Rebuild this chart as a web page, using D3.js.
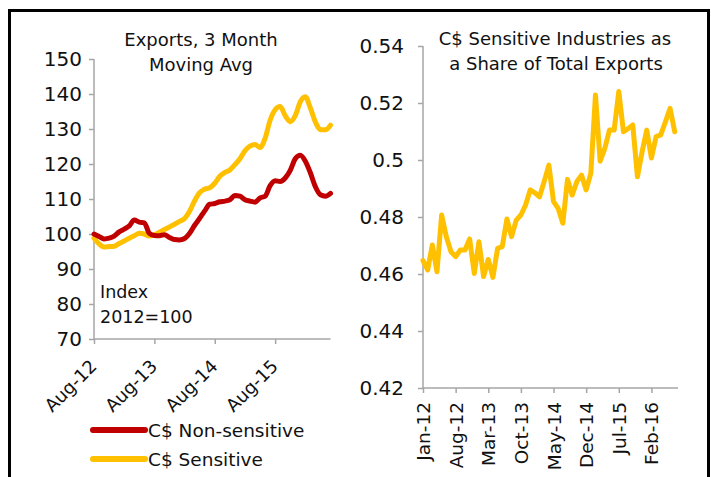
<!DOCTYPE html>
<html>
<head>
<meta charset="utf-8">
<script src="https://cdn.jsdelivr.net/npm/d3@7"></script>
<style>
  body { margin: 0; background: #fff; }
  text { font-family: "DejaVu Sans", sans-serif; fill: #111; }
</style>
</head>
<body>
<script>
// Left panel: exports, 3 month moving average, index 2012=100 (monthly, Aug-12 .. Jul-16)
const leftTicks = ["Aug-12", "Aug-13", "Aug-14", "Aug-15"];
const nonSensitive = [
  100, 99.3, 98.6, 98.8, 99.4, 100.6, 101.4, 102.3, 104, 103.4, 103.2, 100.2,
  99.6, 99.5, 99.8, 99.0, 98.4, 98.3, 98.7, 100.2, 102.5, 104.5, 106.6, 108.5,
  108.7, 109.2, 109.4, 109.8, 111, 110.8, 109.8, 109.4, 109.1, 110.3, 110.8, 113.8,
  115.2, 115, 116, 118.2, 121.5, 122.5, 120.8, 117.5, 113.5, 111.2, 110.8, 111.6
];
const sensitive = [
  98.8, 97.2, 96.3, 96.4, 96.5, 97.3, 98.0, 98.8, 99.5, 100.2, 100.0, 99.4,
  99.8, 100.5, 101.3, 102.0, 102.8, 103.6, 104.4, 106.5, 109.5, 111.8, 112.8, 113.2,
  114.5, 116.5, 117.6, 118.3, 119.8, 121.5, 123.8, 125.1, 125.6, 124.7, 127.3, 132.5,
  135.5, 136.4, 133.8, 132.1, 133.8, 137.8, 139.2, 136, 132, 129.8, 129.8, 131.1
];
const leftYTicks = [70, 80, 90, 100, 110, 120, 130, 140, 150];

// Right panel: C$ sensitive share of total exports (monthly, Jan-12 .. Jul-16)
const rightTicks = ["Jan-12", "Aug-12", "Mar-13", "Oct-13", "May-14", "Dec-14", "Jul-15", "Feb-16"];
const share = [
  0.4647, 0.4614, 0.4702, 0.4608, 0.4807, 0.4731, 0.4678, 0.4661, 0.4684, 0.4684,
  0.4723, 0.4602, 0.4713, 0.4591, 0.4651, 0.4588, 0.4690, 0.4696, 0.4793, 0.4731,
  0.4789, 0.4807, 0.4842, 0.4895, 0.4885, 0.4871, 0.4925, 0.4982, 0.4854, 0.4830,
  0.4778, 0.4932, 0.4877, 0.4924, 0.4947, 0.4895, 0.4953, 0.5228, 0.4996, 0.5041,
  0.5105, 0.5105, 0.5240, 0.5099, 0.5110, 0.5123, 0.4941, 0.5029, 0.5105, 0.5007,
  0.5082, 0.5088, 0.5134, 0.5181, 0.5099
];
const rightYTicks = [0.42, 0.44, 0.46, 0.48, 0.5, 0.52, 0.54];

const red = "#C00000", yellow = "#FFC000", axisColor = "#a6a6a6";

const svg = d3.select("body").append("svg")
  .attr("width", 711)
  .attr("height", 477);

// outer frame
svg.append("rect")
  .attr("x", 9.5).attr("y", 10.5)
  .attr("width", 699).attr("height", 520)
  .attr("fill", "none")
  .attr("stroke", "#000")
  .attr("stroke-width", 3);

// ---------- left chart ----------
const x1 = d3.scaleLinear().domain([0, 47]).range([94, 330.5]);
const y1 = d3.scaleLinear().domain([70, 150]).range([339, 59]);

const gl = svg.append("g");

const yAxisL = gl.append("g")
  .attr("transform", "translate(94,0)")
  .call(d3.axisLeft(y1).tickValues(leftYTicks).tickSize(5).tickPadding(7).tickFormat(d3.format("d")));
const xAxisL = gl.append("g")
  .attr("transform", "translate(0,339)")
  .call(d3.axisBottom(x1).tickValues([0, 12, 24, 36]).tickSize(5).tickFormat((d, i) => leftTicks[i]));

[yAxisL, xAxisL].forEach(a => {
  a.select(".domain").attr("stroke", axisColor).attr("stroke-width", 1.5);
  a.selectAll(".tick line").attr("stroke", axisColor).attr("stroke-width", 1.5);
});
xAxisL.select(".domain").attr("d", "M94,0H330.5");
yAxisL.select(".domain").attr("d", "M0,59V339");
yAxisL.selectAll("text").attr("font-size", 20).attr("fill", "#111");
xAxisL.selectAll("text")
  .attr("font-size", 18)
  .attr("fill", "#111")
  .attr("text-anchor", "end")
  .attr("transform", "translate(-1,24) rotate(-45)")
  .attr("dy", "0.35em")
  .attr("y", 0);

const lineL = s => d3.line().x((d, i) => x1(i)).y(d => y1(d)).curve(d3.curveMonotoneX)(s);

gl.append("path").attr("d", lineL(sensitive))
  .attr("fill", "none").attr("stroke", yellow).attr("stroke-width", 5)
  .attr("stroke-linejoin", "round").attr("stroke-linecap", "round");
gl.append("path").attr("d", lineL(nonSensitive))
  .attr("fill", "none").attr("stroke", red).attr("stroke-width", 5)
  .attr("stroke-linejoin", "round").attr("stroke-linecap", "round");

gl.append("text").attr("x", 201).attr("y", 46).attr("text-anchor", "middle")
  .attr("font-size", 18).text("Exports, 3 Month");
gl.append("text").attr("x", 201).attr("y", 71).attr("text-anchor", "middle")
  .attr("font-size", 18).text("Moving Avg");

gl.append("text").attr("x", 100).attr("y", 298).attr("font-size", 17.5).text("Index");
gl.append("text").attr("x", 100).attr("y", 323).attr("font-size", 17.5).text("2012=100");

// legend
const legend = [
  { name: "C$ Non-sensitive", color: red },
  { name: "C$ Sensitive", color: yellow }
];
legend.forEach((d, i) => {
  const y = 430 + i * 29;
  gl.append("line").attr("x1", 93).attr("x2", 145).attr("y1", y).attr("y2", y)
    .attr("stroke", d.color).attr("stroke-width", 6).attr("stroke-linecap", "round");
  gl.append("text").attr("x", 148).attr("y", y + 7).attr("font-size", 18.5).text(d.name);
});

// ---------- right chart ----------
const x2 = d3.scaleLinear().domain([0, 54.7]).range([423, 678]);
const y2 = d3.scaleLinear().domain([0.42, 0.54]).range([388, 46]);

const gr = svg.append("g");

const yAxisR = gr.append("g")
  .attr("transform", "translate(423,0)")
  .call(d3.axisLeft(y2).tickValues(rightYTicks).tickSize(5).tickPadding(14).tickFormat(d => d3.format(".2f")(d).replace(/0$/, "")));
const xAxisR = gr.append("g")
  .attr("transform", "translate(0,388)")
  .call(d3.axisBottom(x2).tickValues(d3.range(0, 50, 7)).tickSize(5).tickFormat((d, i) => rightTicks[i]));

[yAxisR, xAxisR].forEach(a => {
  a.select(".domain").attr("stroke", axisColor).attr("stroke-width", 1.5);
  a.selectAll(".tick line").attr("stroke", axisColor).attr("stroke-width", 1.5);
});
xAxisR.select(".domain").attr("d", "M423,0H678");
yAxisR.select(".domain").attr("d", "M0,46V388");
yAxisR.selectAll("text").attr("font-size", 20).attr("fill", "#111");
xAxisR.selectAll("text")
  .attr("font-size", 18.5)
  .attr("fill", "#111")
  .attr("text-anchor", "end")
  .attr("transform", "rotate(-90)")
  .attr("x", -14)
  .attr("y", 0)
  .attr("dy", "0.35em");

gr.append("path")
  .attr("d", d3.line().x((d, i) => x2(i)).y(d => y2(d))(share))
  .attr("fill", "none").attr("stroke", yellow).attr("stroke-width", 5)
  .attr("stroke-linejoin", "round").attr("stroke-linecap", "round");

gr.append("text").attr("x", 555).attr("y", 45).attr("text-anchor", "middle")
  .attr("font-size", 18).text("C$ Sensitive Industries as");
gr.append("text").attr("x", 556).attr("y", 70).attr("text-anchor", "middle")
  .attr("font-size", 18).text("a Share of Total Exports");
</script>
</body>
</html>
